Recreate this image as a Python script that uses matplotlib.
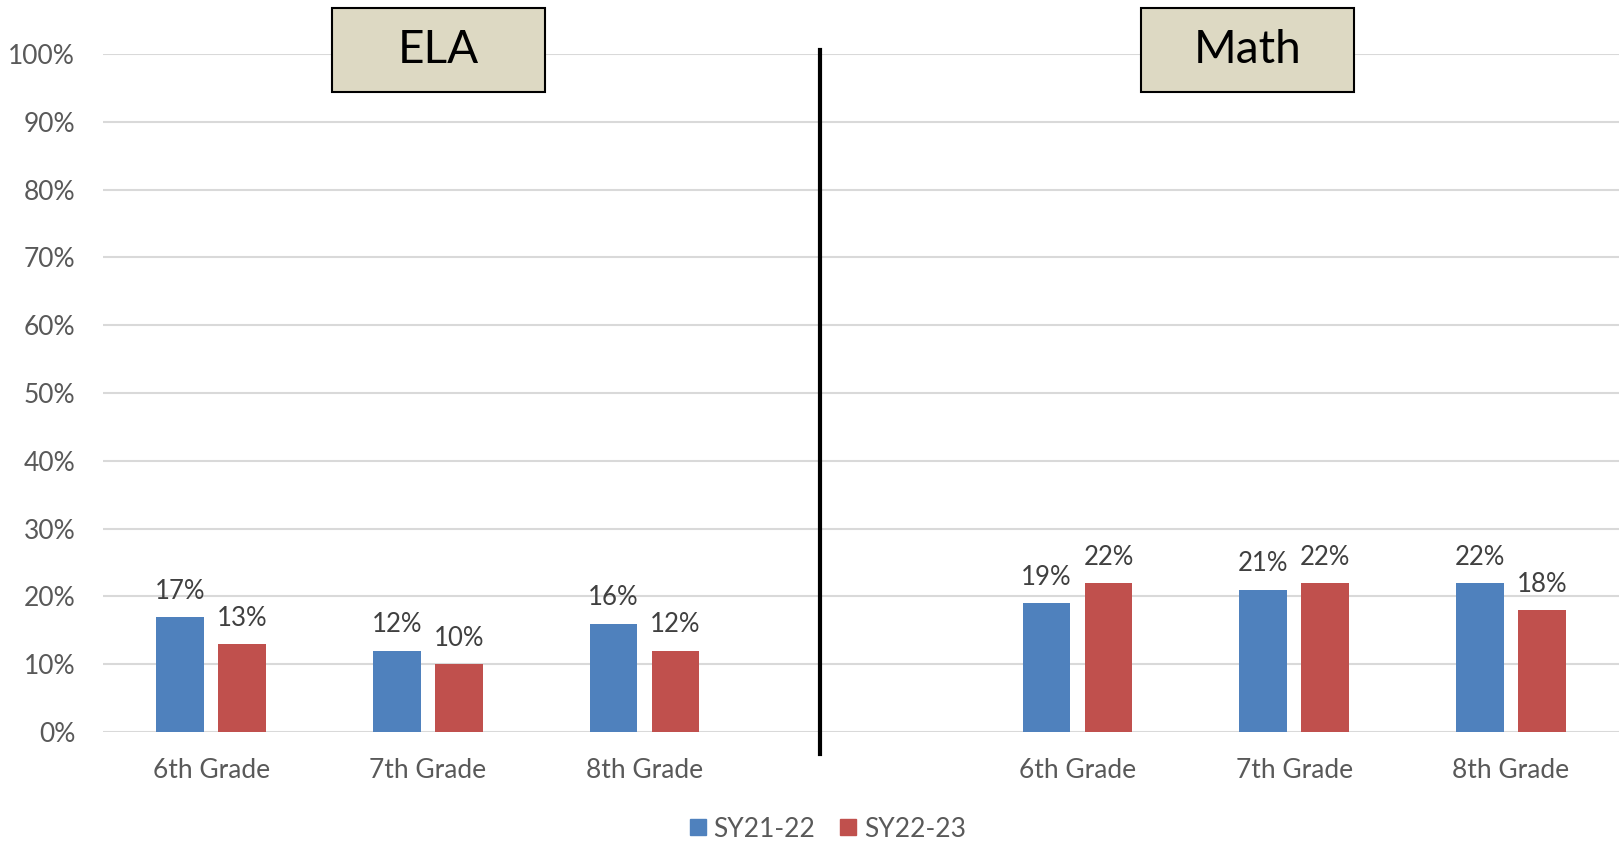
import matplotlib
matplotlib.use('Agg')
import matplotlib.pyplot as plt
from matplotlib.patches import Rectangle
from matplotlib.lines import Line2D
import numpy as np

plt.rcParams['font.family'] = ['Lato', 'DejaVu Sans']

# data (middle slot is an empty gap between ELA and Math)
grades = ['6th Grade', '7th Grade', '8th Grade', '', '6th Grade', '7th Grade', '8th Grade']
sy2122 = [17, 12, 16, np.nan, 19, 21, 22]
sy2223 = [13, 10, 12, np.nan, 22, 22, 18]
series_names = ['SY21-22', 'SY22-23']
panel_titles = ['ELA', 'Math']

blue = '#4F81BD'
red = '#C0504D'
grid_c = '#D9D9D9'
tick_c = '#595959'
label_c = '#404040'

fig = plt.figure(figsize=(16.19, 8.41), dpi=100)
ax = fig.add_axes([0.0636, 0.1296, 0.9364, 0.8062])

x = np.arange(len(grades))
w = 0.22
off = 0.143
b1 = ax.bar(x - off, np.array(sy2122) / 100, w, color=blue)
b2 = ax.bar(x + off, np.array(sy2223) / 100, w, color=red)

for bars, vals in [(b1, sy2122), (b2, sy2223)]:
    for rect, v in zip(bars, vals):
        if np.isnan(v):
            continue
        ax.annotate(f'{v:.0f}%', (rect.get_x() + rect.get_width() / 2, rect.get_height()),
                    xytext=(0, 9.5), textcoords='offset points', ha='center', va='bottom',
                    fontsize=18.5, color=label_c)

ax.set_xlim(-0.5, len(grades) - 0.5)
ax.set_ylim(0, 1.0)
ax.set_yticks(np.arange(0, 1.01, 0.1))
ax.set_yticklabels([f'{int(round(t * 100))}%' for t in np.arange(0, 1.01, 0.1)])
ax.set_xticks(x)
ax.set_xticklabels(grades)
ax.tick_params(axis='both', length=0, labelsize=19, colors=tick_c)
ax.tick_params(axis='x', pad=19)
ax.tick_params(axis='y', pad=20)
ax.yaxis.grid(True, color=grid_c, linewidth=1.5)
ax.set_axisbelow(True)
for s in ax.spines.values():
    s.set_visible(False)

# divider line between the two subjects
fig.add_artist(Line2D([0.5065, 0.5065], [0.1034, 0.9405], color='black', linewidth=3,
                      transform=fig.transFigure))

# subject title boxes
for x0, t in zip([0.205, 0.7048], panel_titles):
    fig.add_artist(Rectangle((x0, 0.8906), 0.1316, 0.0999, transform=fig.transFigure,
                             facecolor='#DDD9C3', edgecolor='black', linewidth=1.5))
    fig.text(x0 + 0.1316 / 2, 0.8906 + 0.0999 / 2, t, ha='center', va='center',
             fontsize=33, color='black')

handles = [Line2D([], [], marker='s', linestyle='none', markersize=12, color=c)
           for c in [blue, red]]
leg = fig.legend(handles, series_names, loc='center', bbox_to_anchor=(0.511, 0.014),
                 ncol=2, frameon=False, fontsize=19, handlelength=0.7,
                 handletextpad=0.25, columnspacing=0.9)
for t in leg.get_texts():
    t.set_color(tick_c)

fig.savefig('out.png', dpi=100)
